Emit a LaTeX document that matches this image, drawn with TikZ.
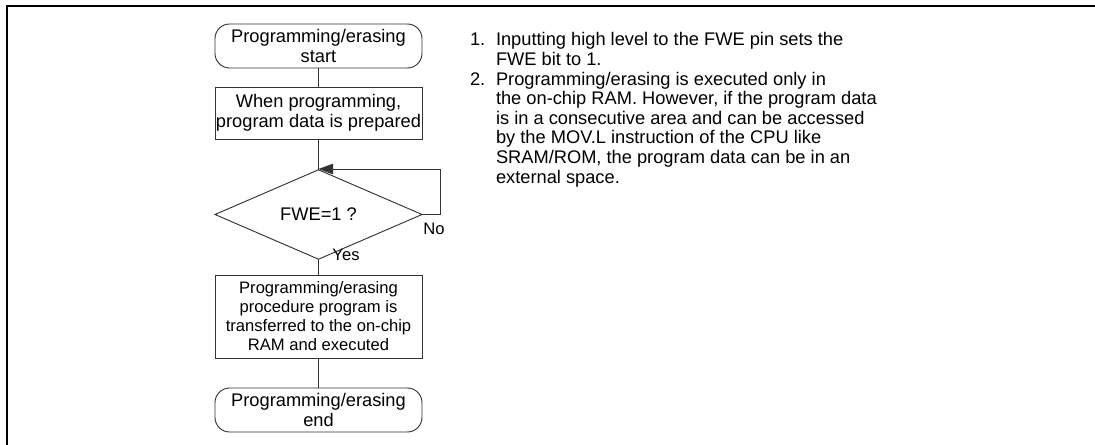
\documentclass[tikz,border=0pt]{standalone}
\usepackage{fontspec}
\setmainfont{Liberation Sans}
\usetikzlibrary{shapes.geometric,arrows.meta}
\definecolor{ln}{gray}{0.2}
\begin{document}
\begin{tikzpicture}[x=0.75pt,y=-0.75pt,
  every node/.style={inner sep=0pt, outer sep=0pt},
  fc/.style={draw=ln, line width=0.7pt, minimum width=155.25pt, align=center,
    font=\fontsize{13.7}{15}\selectfont},
  term/.style={fc, rounded corners=11pt, minimum height=33pt},
  proc/.style={fc},
  dec/.style={fc, diamond, minimum height=39.75pt},
  conn/.style={draw=ln, line width=0.7pt},
  small/.style={font=\fontsize{12.45}{14.25}\selectfont},
  note/.style={anchor=base west, font=\fontsize{13.7}{14.7}\selectfont}]
\useasboundingbox (0,0) rectangle (1095,445);
\draw[line width=1.5pt] (7,445) -- (7,6.5) -- (1095,6.5);

\node[term] (start) at (318.5,46) {Programming/erasing\\start};
\node[proc, minimum height=39pt] (prep) at (318.5,113) {When programming,\\program data is prepared};
\node[dec] (fwe) at (318.5,214.5) {FWE=1 ?};
\node[proc, minimum height=62.25pt, small] (xfer) at (318.5,316.5)
  {Programming/erasing\\procedure program is\\transferred to the on-chip\\RAM and executed};
\node[term] (end) at (318.5,410) {Programming/erasing\\end};

\coordinate (join) at (318.5,169);
\coordinate (loopc) at (440,169);

\draw[conn] (start) -- (prep);
\draw[conn] (prep) -- (fwe);
\draw[conn] (fwe) -- (xfer);
\draw[conn] (xfer) -- (end);
\draw[conn, -{Triangle[length=11pt,width=8pt]}] (fwe.east) -| (loopc) -- (join);

\node[small] (no) at (434,229) {No};
\node[small] (yes) at (346,255) {Yes};

\node[note] (n1) at (470,46) {1.};
\node[note] (l1) at (496,46) {Inputting high level to the FWE pin sets the};
\node[note] (l2) at (496,65.6) {FWE bit to 1.};
\node[note] (n2) at (470,85.2) {2.};
\node[note] (l3) at (496,85.2) {Programming/erasing is executed only in};
\node[note] (l4) at (496,104.8) {the on-chip RAM. However, if the program data};
\node[note] (l5) at (496,124.4) {is in a consecutive area and can be accessed};
\node[note] (l6) at (496,144) {by the MOV.L instruction of the CPU like};
\node[note] (l7) at (496,163.6) {SRAM/ROM, the program data can be in an};
\node[note] (l8) at (496,183.2) {external space.};
\end{tikzpicture}
\end{document}
